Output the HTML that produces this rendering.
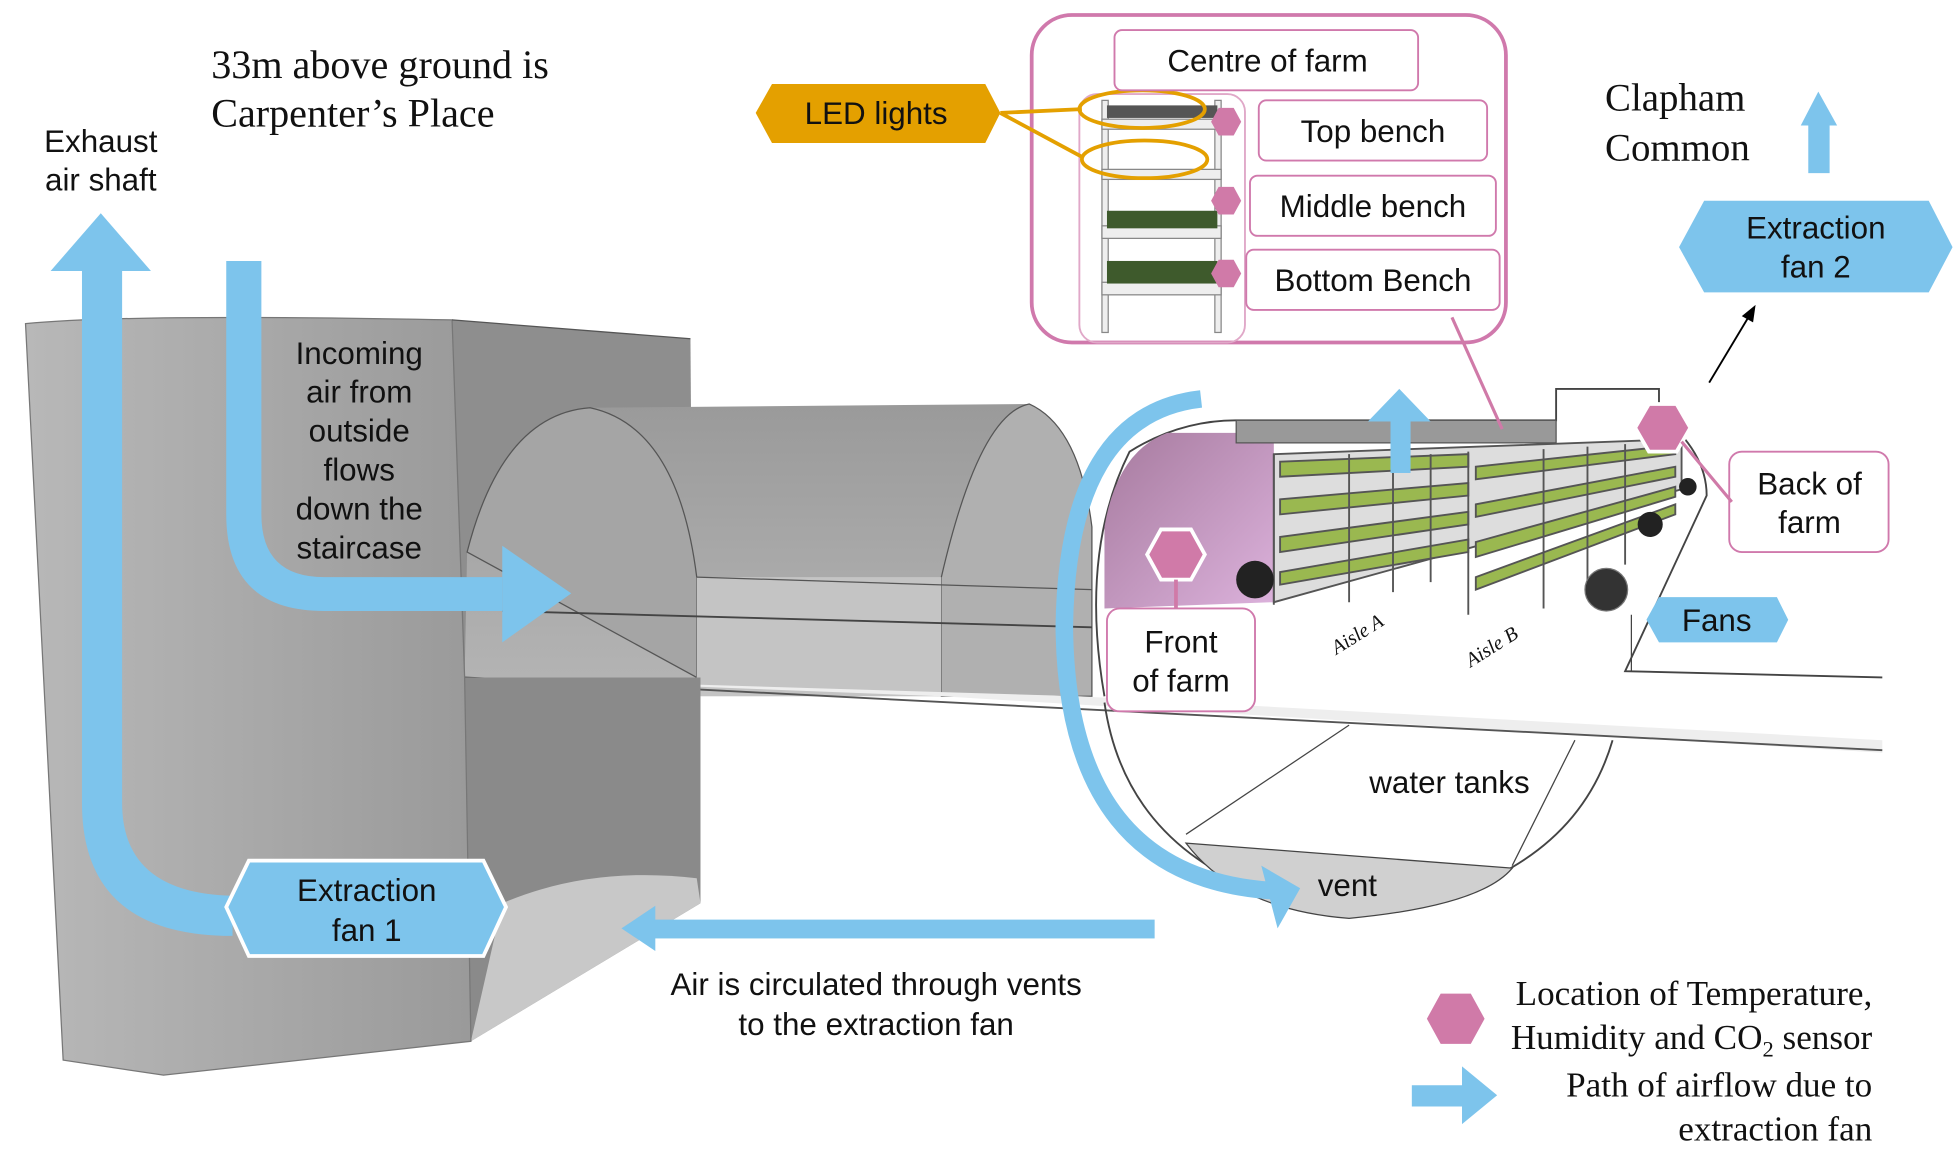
<!DOCTYPE html>
<html><head><meta charset="utf-8"><style>
html,body{margin:0;padding:0;background:#fff;}
svg{display:block}
.s{font-family:"Liberation Sans",sans-serif;font-size:25px;fill:#111;}
.r{font-family:"Liberation Serif",serif;fill:#111;}
</style></head><body>
<svg width="1958" height="1163" viewBox="0 0 1560 927" xmlns="http://www.w3.org/2000/svg">
<defs>
<linearGradient id="pil" x1="0" x2="1"><stop offset="0" stop-color="#b8b8b8"/><stop offset="0.5" stop-color="#a9a9a9"/><stop offset="1" stop-color="#9a9a9a"/></linearGradient>
<linearGradient id="tun" x1="0" y1="0" x2="0" y2="1"><stop offset="0" stop-color="#9a9a9a"/><stop offset="1" stop-color="#b5b5b5"/></linearGradient>
<linearGradient id="pur" x1="0" y1="0" x2="1" y2="1"><stop offset="0" stop-color="#a67a9e"/><stop offset="1" stop-color="#dcb2dc"/></linearGradient>
</defs>
<polygon points="360,255 550,270 552,540 370,540" fill="#8e8e8e"/>
<path d="M370,540 L372,440 Q400,330 470,325 L820,322 Q860,340 870,420 L870,555 L750,555 Z" fill="url(#tun)"/>
<path d="M372,440 Q400,330 470,325 Q540,340 555,460 L555,540 Z" fill="#a5a5a5" stroke="#555" stroke-width="1"/>
<path d="M750,555 L750,460 Q780,330 820,322 Q860,340 870,420 L870,555 Z" fill="#b0b0b0" stroke="#555" stroke-width="1"/>
<rect x="555" y="460" width="195" height="95" fill="#c4c4c4"/>
<line x1="555" y1="460" x2="870" y2="470" stroke="#555"/>
<line x1="400" y1="487" x2="870" y2="500" stroke="#444" stroke-width="1.5"/>
<polygon points="370,540 750,555 1500,600 1500,590 860,555" fill="#eee"/>
<line x1="370" y1="540" x2="1500" y2="598" stroke="#555" stroke-width="1.5"/>
<polygon points="370,540 558,540 558,720 375,830" fill="#8a8a8a"/>
<path d="M375,830 L558,720 L555,700 Q470,690 400,720 Z" fill="#c8c8c8"/>
<path d="M20,258 Q100,250 360,255 L370,540 L375,830 L130,857 L50,845 Z" fill="url(#pil)" stroke="#777"/>
<line x1="360" y1="255" x2="550" y2="270" stroke="#555"/>
<path d="M880,555 Q860,440 900,360 Q940,335 985,335 L1240,335 L1240,310 L1322,310 L1322,330 Q1360,360 1360,395 L1295,535 L1500,540" fill="none" stroke="#444" stroke-width="1.5"/>
<path d="M880,560 Q900,700 1075,730 Q1250,710 1285,590" fill="none" stroke="#444" stroke-width="1.5"/>
<path d="M880,485 L880,420 Q890,360 930,345 L1015,345 L1015,480 Z" fill="url(#pur)"/>
<rect x="985" y="335" width="255" height="18" fill="#999" stroke="#555"/>
<g stroke="#555" stroke-width="1.5">
<polygon points="1015,362 1340,350 1340,390 1015,480" fill="#ddd"/>
<g fill="#9ab850">
<polygon points="1020,368 1170,362 1170,372 1020,380"/>
<polygon points="1020,398 1170,385 1170,395 1020,410"/>
<polygon points="1020,428 1170,408 1170,418 1020,440"/>
<polygon points="1020,456 1170,430 1170,440 1020,466"/>
<polygon points="1176,372 1335,355 1335,362 1176,382"/>
<polygon points="1176,402 1335,372 1335,380 1176,412"/>
<polygon points="1176,432 1335,388 1335,396 1176,444"/>
<polygon points="1176,460 1335,402 1335,410 1176,470"/>
</g>
<line x1="1015" y1="362" x2="1015" y2="482"/><line x1="1075" y1="362" x2="1075" y2="480"/>
<line x1="1110" y1="362" x2="1110" y2="472"/><line x1="1140" y1="362" x2="1140" y2="464"/>
<line x1="1170" y1="360" x2="1170" y2="490"/><line x1="1230" y1="358" x2="1230" y2="485"/>
<line x1="1265" y1="356" x2="1265" y2="465"/><line x1="1295" y1="354" x2="1295" y2="450"/>
</g>
<circle cx="1000" cy="462" r="15" fill="#222"/>
<circle cx="1280" cy="470" r="17" fill="#333" stroke="#777"/>
<circle cx="1315" cy="418" r="10" fill="#222"/>
<circle cx="1345" cy="388" r="7" fill="#222"/>
<line x1="1300" y1="490" x2="1300" y2="535" stroke="#444"/>
<line x1="945" y1="665" x2="1075" y2="578" stroke="#444"/>
<line x1="1255" y1="590" x2="1205" y2="690" stroke="#444"/>
<path d="M945,672 L1205,692 Q1180,722 1075,732 Q985,725 945,672 Z" fill="#d0d0d0" stroke="#444"/>
<text class="r" font-style="italic" font-size="16" transform="translate(1065,522) rotate(-32)">Aisle A</text>
<text class="r" font-style="italic" font-size="16" transform="translate(1172,532) rotate(-32)">Aisle B</text>

<g fill="#7dc4ec">
<path d="M65,215 L97,215 L97,640 Q97,712 185,714 L185,746 Q65,746 65,640 Z"/>
<polygon points="40,216 120,216 80,170"/>
<path d="M180,208 L208,208 L208,410 Q208,460 258,460 L400,460 L400,487 L258,487 Q180,487 180,410 Z"/>
<polygon points="400,435 455,473 400,512"/>
<rect x="520" y="733" width="400" height="15"/>
<polygon points="522,722 522,758 495,740"/>
<rect x="1108" y="335" width="16" height="42"/>
<polygon points="1090,336 1140,336 1115,310"/>
<rect x="1441" y="98" width="17" height="40"/>
<polygon points="1435,100 1464,100 1449,73"/>
<polygon points="1125,865 1165,865 1165,850 1193,873 1165,896 1165,882 1125,882"/>
</g>
<path d="M957,318 Q850,330 848,500 Q850,700 1015,710" fill="none" stroke="#7dc4ec" stroke-width="14"/>
<polygon points="1005,690 1036,708 1018,740" fill="#7dc4ec"/>

<polygon points="180,723 198,686 385,686 403,723 385,762 198,762" fill="#7dc4ec" stroke="#fff" stroke-width="3"/>
<text class="s" x="292" y="718" text-anchor="middle">Extraction</text>
<text class="s" x="292" y="750" text-anchor="middle">fan 1</text>
<polygon points="1338,197 1358,160 1537,160 1556,197 1537,233 1358,233" fill="#7dc4ec"/>
<text class="s" x="1447" y="190" text-anchor="middle">Extraction</text>
<text class="s" x="1447" y="221" text-anchor="middle">fan 2</text>
<polygon points="1312,494 1322,476 1416,476 1425,494 1416,512 1322,512" fill="#7dc4ec"/>
<text class="s" x="1368" y="503" text-anchor="middle">Fans</text>
<polygon points="602,90 615,67 785,67 797,90 785,114 615,114" fill="#e4a000"/>
<text class="s" x="698" y="99" text-anchor="middle">LED lights</text>

<rect x="822" y="12" width="378" height="261" rx="32" fill="#fff" stroke="#d079ac" stroke-width="3"/>
<rect x="860" y="75" width="132" height="198" rx="14" fill="none" stroke="#e0a8c8" stroke-width="1.5"/>
<g stroke="#888" fill="#eee">
<rect x="878" y="80" width="5" height="185"/><rect x="968" y="80" width="5" height="185"/>
<rect x="878" y="95" width="95" height="8"/><rect x="878" y="135" width="95" height="8"/>
<rect x="878" y="180" width="95" height="10"/><rect x="878" y="225" width="95" height="10"/>
</g>
<rect x="882" y="168" width="88" height="14" fill="#3e5a2c"/>
<rect x="882" y="208" width="88" height="18" fill="#3e5a2c"/>
<rect x="882" y="84" width="88" height="10" fill="#555"/>
<g fill="none" stroke="#e4a000" stroke-width="3">
<ellipse cx="910" cy="87" rx="50" ry="15"/><ellipse cx="912" cy="127" rx="50" ry="15"/>
<line x1="797" y1="90" x2="862" y2="87"/><line x1="797" y1="90" x2="862" y2="125"/>
</g>
<g fill="#fff" stroke="#d079ac" stroke-width="1.5">
<rect x="888" y="24" width="242" height="48" rx="6"/>
<rect x="1003" y="80" width="182" height="48" rx="6"/>
<rect x="996" y="140" width="196" height="48" rx="6"/>
<rect x="993" y="199" width="202" height="48" rx="6"/>
<rect x="882" y="485" width="118" height="82" rx="10"/>
<rect x="1378" y="360" width="127" height="80" rx="10"/>
</g>
<text class="s" x="1010" y="57" text-anchor="middle">Centre of farm</text>
<text class="s" x="1094" y="113" text-anchor="middle">Top bench</text>
<text class="s" x="1094" y="173" text-anchor="middle">Middle bench</text>
<text class="s" x="1094" y="232" text-anchor="middle">Bottom Bench</text>
<text class="s" x="941" y="520" text-anchor="middle">Front</text>
<text class="s" x="941" y="551" text-anchor="middle">of farm</text>
<text class="s" x="1442" y="394" text-anchor="middle">Back of</text>
<text class="s" x="1442" y="425" text-anchor="middle">farm</text>
<g fill="#d07aa8">
<polygon points="965,97 971,86 983,86 989,97 983,108 971,108"/>
<polygon points="965,160 971,149 983,149 989,160 983,171 971,171"/>
<polygon points="965,218 971,207 983,207 989,218 983,229 971,229"/>
</g>
<g fill="#d07aa8" stroke="#fff" stroke-width="3">
<polygon points="914,442 925,422 949,422 960,442 949,462 925,462"/>
<polygon points="1303,341 1314,322 1336,322 1347,341 1336,360 1314,360"/>
<polygon points="1137,812 1148,792 1172,792 1183,812 1172,832 1148,832" stroke="none"/>
</g>
<line x1="937" y1="462" x2="937" y2="485" stroke="#d07aa8" stroke-width="3"/>
<line x1="1157" y1="253" x2="1197" y2="342" stroke="#d07aa8" stroke-width="2.5"/>
<line x1="1340" y1="352" x2="1380" y2="400" stroke="#d07aa8" stroke-width="2.5"/>
<line x1="1362" y1="305" x2="1395" y2="250" stroke="#000" stroke-width="1.5"/>
<polygon points="1399,243 1397,257 1388,252" fill="#000"/>

<text class="r" font-size="32" x="168" y="62">33m above ground is</text>
<text class="r" font-size="32" x="168" y="101">Carpenter’s Place</text>
<text class="s" x="80" y="121" text-anchor="middle">Exhaust</text>
<text class="s" x="80" y="152" text-anchor="middle">air shaft</text>
<g class="s" text-anchor="middle">
<text x="286" y="290">Incoming</text><text x="286" y="321">air from</text><text x="286" y="352">outside</text>
<text x="286" y="383">flows</text><text x="286" y="414">down the</text><text x="286" y="445">staircase</text>
</g>
<text class="s" x="698" y="793" text-anchor="middle">Air is circulated through vents</text>
<text class="s" x="698" y="825" text-anchor="middle">to the extraction fan</text>
<text class="s" x="1050" y="714">vent</text>
<text class="s" x="1155" y="632" text-anchor="middle">water tanks</text>
<text class="r" font-size="31" x="1279" y="88">Clapham</text>
<text class="r" font-size="31" x="1279" y="128">Common</text>
<g class="r" font-size="28" text-anchor="end">
<text x="1492" y="801">Location of Temperature,</text>
<text x="1492" y="836">Humidity and CO<tspan font-size="18" dy="6">2</tspan><tspan dy="-6"> sensor</tspan></text>
<text x="1492" y="874">Path of airflow due to</text>
<text x="1492" y="909">extraction fan</text>
</g>
</svg>
</body></html>
